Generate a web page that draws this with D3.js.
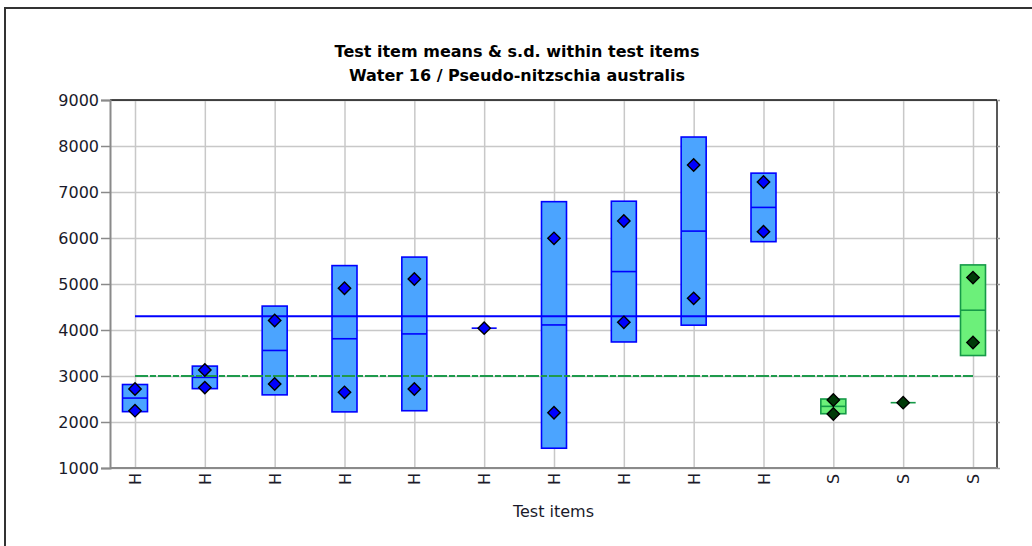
<!DOCTYPE html>
<html>
<head>
<meta charset="utf-8">
<script src="https://cdn.jsdelivr.net/npm/d3@7"></script>
<style>
  html, body { margin: 0; padding: 0; background: #fff; }
  svg { display: block; }
</style>
</head>
<body>
<svg id="chart" width="1032" height="546"></svg>
<script>
// ---- data ----
const categories = ["H","H","H","H","H","H","H","H","H","H","S","S","S"];
const means = [2520, 2970, 3555, 3810, 3915, 4040, 4110, 5270, 6150, 6665, 2340, 2420, 4430];
const sds   = [ 295,  245,  965, 1590, 1670,    0, 2680, 1530, 2045,  745,  160,    0,  985];
const rep1  = [2717, 3130, 4207, 4907, 5109, 4040, 5993, 6370, 7587, 7217, 2478, 2420, 5139];
const rep2  = [2246, 2748, 2826, 2645, 2717, null, 2202, 4167, 4688, 6138, 2174, null, 3727];
const yTicks = [1000, 2000, 3000, 4000, 5000, 6000, 7000, 8000, 9000];
const hGrandMean = 4300;
const sGrandMean = 3000;
const titleLines = ["Test item means & s.d. within test items", "Water 16 / Pseudo-nitzschia australis"];
const xTitle = "Test items";

// ---- layout ----
const svg = d3.select("#chart");
const L = 110, R = 997, T = 100, B = 468;
const font = "DejaVu Sans, Verdana, sans-serif";

const x = d3.scalePoint().domain(d3.range(categories.length)).range([135, 973]);
const y = d3.scaleLinear().domain([1000, 9000]).range([B, T]);

const isH = i => categories[i] === "H";
const style = {
  H: { fill: "#4ba4ff", stroke: "#0000ff", dot: "#0000ff" },
  S: { fill: "#6cf07a", stroke: "#169a48", dot: "#003a08" }
};

// outer frame
svg.append("rect").attr("x", 5).attr("y", 8).attr("width", 1040).attr("height", 560)
  .attr("fill", "#fff").attr("stroke", "#333").attr("stroke-width", 2);

// title
svg.append("g").selectAll("text").data(titleLines).join("text")
  .attr("x", 517).attr("y", (d, i) => 57 + i * 23.5)
  .attr("text-anchor", "middle")
  .attr("font-family", font).attr("font-weight", "bold").attr("font-size", 16)
  .attr("fill", "#000").text(d => d);

// grid
const grid = svg.append("g");
grid.append("g").attr("transform", `translate(${L},0)`)
  .call(d3.axisLeft(y).tickValues(yTicks).tickSize(-(R - L)).tickFormat(""))
  .call(g => g.select(".domain").remove())
  .call(g => g.selectAll("line").attr("stroke", "#c8c8c8").attr("stroke-width", 1.5));
grid.append("g").attr("transform", `translate(0,${B})`)
  .call(d3.axisBottom(x).tickSize(-(B - T)).tickFormat(""))
  .call(g => g.select(".domain").remove())
  .call(g => g.selectAll("line").attr("stroke", "#c8c8c8").attr("stroke-width", 1.5));

// frame lines of plot
svg.append("line").attr("x1", L).attr("x2", R).attr("y1", T).attr("y2", T).attr("stroke", "#111").attr("stroke-width", 1.5);
svg.append("line").attr("x1", R).attr("x2", R).attr("y1", T).attr("y2", B).attr("stroke", "#222").attr("stroke-width", 1.5);

// y axis left
svg.append("g").attr("transform", `translate(${L},0)`)
  .call(d3.axisLeft(y).tickValues(yTicks).tickSize(9).tickPadding(2).tickFormat(d3.format("d")))
  .call(g => g.select(".domain").attr("stroke", "#8a8a8a").attr("stroke-width", 2))
  .call(g => g.selectAll(".tick line").attr("stroke", "#8a8a8a").attr("stroke-width", 1.5))
  .call(g => g.selectAll("text").attr("font-family", font).attr("font-size", 16).attr("fill", "#1a1a2a"));

// y ticks right
svg.append("g").attr("transform", `translate(${R},0)`)
  .call(d3.axisRight(y).tickValues(yTicks).tickSize(3).tickFormat(""))
  .call(g => g.select(".domain").remove())
  .call(g => g.selectAll(".tick line").attr("stroke", "#999").attr("stroke-width", 1.5));

// x axis
svg.append("g").attr("transform", `translate(0,${B})`)
  .call(d3.axisBottom(x).tickSize(0).tickFormat(i => categories[i]))
  .call(g => g.select(".domain").attr("d", `M${L},0H${R}`).attr("stroke", "#8a8a8a").attr("stroke-width", 2))
  .call(g => g.selectAll("text")
    .attr("font-family", font).attr("font-size", 16).attr("fill", "#1a1a2a")
    .attr("transform", "rotate(-90)")
    .attr("text-anchor", "middle")
    .attr("x", -11).attr("y", 0).attr("dy", "0.35em"));

svg.append("text").attr("x", (L + R) / 2).attr("y", 517).attr("text-anchor", "middle")
  .attr("font-family", font).attr("font-size", 16).attr("fill", "#1a1a2a").text(xTitle);

// boxes
const bw = 25;
function drawBoxes(idx) {
  const g = svg.append("g");
  g.selectAll("rect").data(idx).join("rect")
    .attr("x", i => x(i) - bw / 2)
    .attr("y", i => y(means[i] + sds[i]))
    .attr("width", bw)
    .attr("height", i => y(means[i] - sds[i]) - y(means[i] + sds[i]))
    .attr("fill", i => style[categories[i]].fill)
    .attr("stroke", i => style[categories[i]].stroke)
    .attr("stroke-width", 1.6);
  g.selectAll("line").data(idx).join("line")
    .attr("x1", i => x(i) - bw / 2).attr("x2", i => x(i) + bw / 2)
    .attr("y1", i => y(means[i])).attr("y2", i => y(means[i]))
    .attr("stroke", i => style[categories[i]].stroke).attr("stroke-width", 1.6);
}
const allIdx = d3.range(categories.length);
drawBoxes(allIdx.filter(isH));

// grand mean lines
svg.append("line").attr("x1", x(0)).attr("x2", x(categories.length - 1))
  .attr("y1", y(hGrandMean)).attr("y2", y(hGrandMean))
  .attr("stroke", "#0000ff").attr("stroke-width", 2);
svg.append("line").attr("x1", x(0)).attr("x2", x(categories.length - 1))
  .attr("y1", y(sGrandMean)).attr("y2", y(sGrandMean))
  .attr("stroke", "#1f9a4c").attr("stroke-width", 2).attr("stroke-dasharray", "13,2,6,2");

drawBoxes(allIdx.filter(i => !isH(i)));

// replicate diamonds
const pts = [];
allIdx.forEach(i => { [rep1[i], rep2[i]].forEach(v => { if (v != null) pts.push({ i, v }); }); });
const diamond = d3.symbol().type(d3.symbolDiamond2).size(98);
svg.append("g").selectAll("path").data(pts).join("path")
  .attr("d", diamond)
  .attr("transform", d => `translate(${x(d.i)},${y(d.v)})`)
  .attr("fill", d => style[categories[d.i]].dot)
  .attr("stroke", "#000").attr("stroke-width", 1.4);
</script>
</body>
</html>
